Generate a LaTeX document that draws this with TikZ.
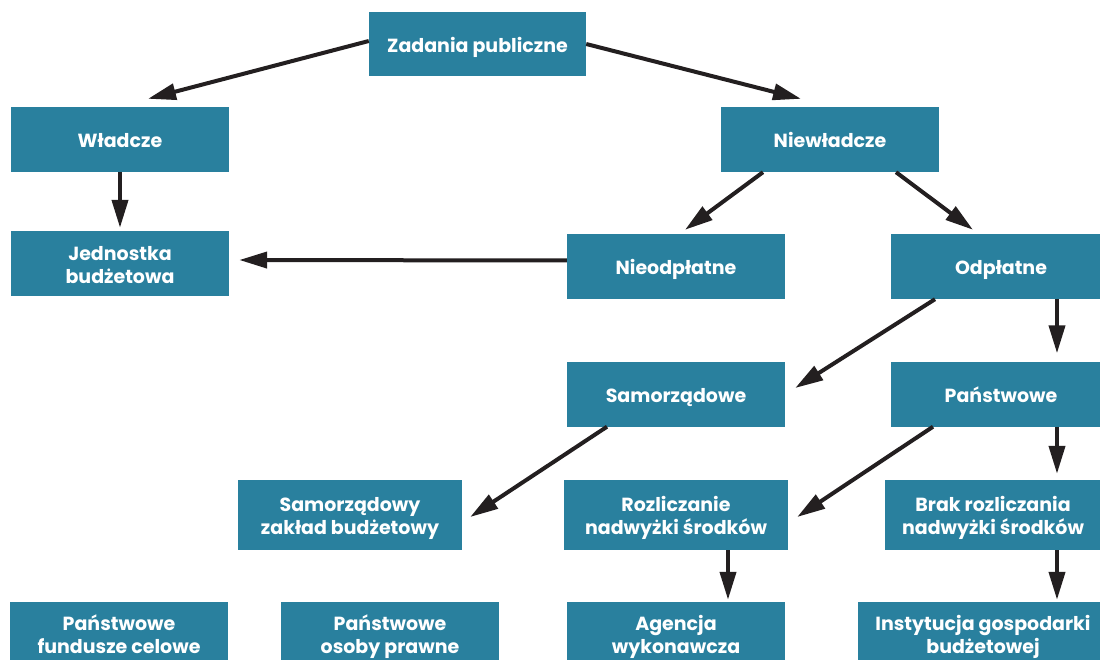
\documentclass[tikz,border=0pt]{standalone}
\usepackage{fontspec}
\setmainfont{Poppins}
\usetikzlibrary{arrows.meta}
\definecolor{boxblue}{RGB}{41,128,158}
\definecolor{arrowblack}{RGB}{35,31,32}

\begin{document}
\begin{tikzpicture}[x=1pt, y=-1pt,
    box/.style={fill=boxblue, text=white, inner sep=0pt, align=center,
      minimum width=218pt, minimum height=65pt,
      text height=19pt, text depth=2.5pt,
      font=\bfseries\fontsize{19}{23}\selectfont},
    twobox/.style={box, text height=42pt},
    arr/.style={draw=arrowblack, line width=4pt,
      -{Triangle[length=28pt,width=16pt]}}]

  \clip (0,0) rectangle (1100,660);

  % top rows
  \node[box, minimum width=217pt, minimum height=64pt] (zad) at (477.5,44) {Zadania publiczne};
  \node[box] (wla) at (120,139.5) {Władcze};
  \node[box] (nie) at (830,139.5) {Niewładcze};
  \node[twobox] (jed) at (120,263.5) {Jednostka\\budżetowa};
  \node[box] (nieod) at (676,266.5) {Nieodpłatne};
  \node[box, minimum width=220pt] (odp) at (1001,266.5) {Odpłatne};
  \node[box] (sam) at (676,394) {Samorządowe};
  \node[box, minimum width=220pt] (pan) at (1001,394) {Państwowe};

  % lower rows
  \node[twobox, minimum width=224pt, minimum height=70pt] (szb) at (350,515) {Samorządowy\\zakład budżetowy};
  \node[twobox, minimum width=224pt, minimum height=70pt] (roz) at (676,515) {Rozliczanie\\nadwyżki środków};
  \node[twobox, minimum width=216pt, minimum height=70pt] (brak) at (993,515) {Brak rozliczania\\nadwyżki środków};
  \node[twobox, minimum height=64pt] (pfc) at (119,634) {Państwowe\\fundusze celowe};
  \node[twobox, minimum height=64pt] (pop) at (390,634) {Państwowe\\osoby prawne};
  \node[twobox, minimum height=64pt] (age) at (676,634) {Agencja\\wykonawcza};
  \node[twobox, minimum width=250pt, minimum height=64pt] (ins) at (983,634) {Instytucja gospodarki\\budżetowej};

  % arrows
  \draw[arr] ([shift={(0,-3)}]zad.west) -- ([shift={(28,-8)}]wla.north);
  \draw[arr] (zad.east) -- ([shift={(-29,-8)}]nie.north);
  \draw[arr] (wla.south) -- ([shift={(0,-3)}]jed.north);
  \draw[arr] ([shift={(-67,0)}]nie.south) -- ([shift={(9,-4)}]nieod.north);
  \draw[arr] ([shift={(66,0)}]nie.south) -- ([shift={(-28,-4)}]odp.north);
  \draw[arr] ([shift={(0,-6)}]nieod.west) -- ([shift={(10,-3.5)}]jed.east);
  \draw[arr] ([shift={(-66,0)}]odp.south) -- ([shift={(10,-6)}]sam.east);
  \draw[arr] ([shift={(56,0)}]odp.south) -- ([shift={(56,-8)}]pan.north);
  \draw[arr] ([shift={(-69,0)}]sam.south) -- ([shift={(8,2)}]szb.east);
  \draw[arr] ([shift={(-68,0)}]pan.south) -- ([shift={(9,2)}]roz.east);
  \draw[arr] ([shift={(56,0)}]pan.south) -- ([shift={(64,-6)}]brak.north);
  \draw[arr] ([shift={(52,0)}]roz.south) -- ([shift={(52,-2)}]age.north);
  \draw[arr] ([shift={(64,0)}]brak.south) -- ([shift={(74,-2)}]ins.north);
\end{tikzpicture}
\end{document}
